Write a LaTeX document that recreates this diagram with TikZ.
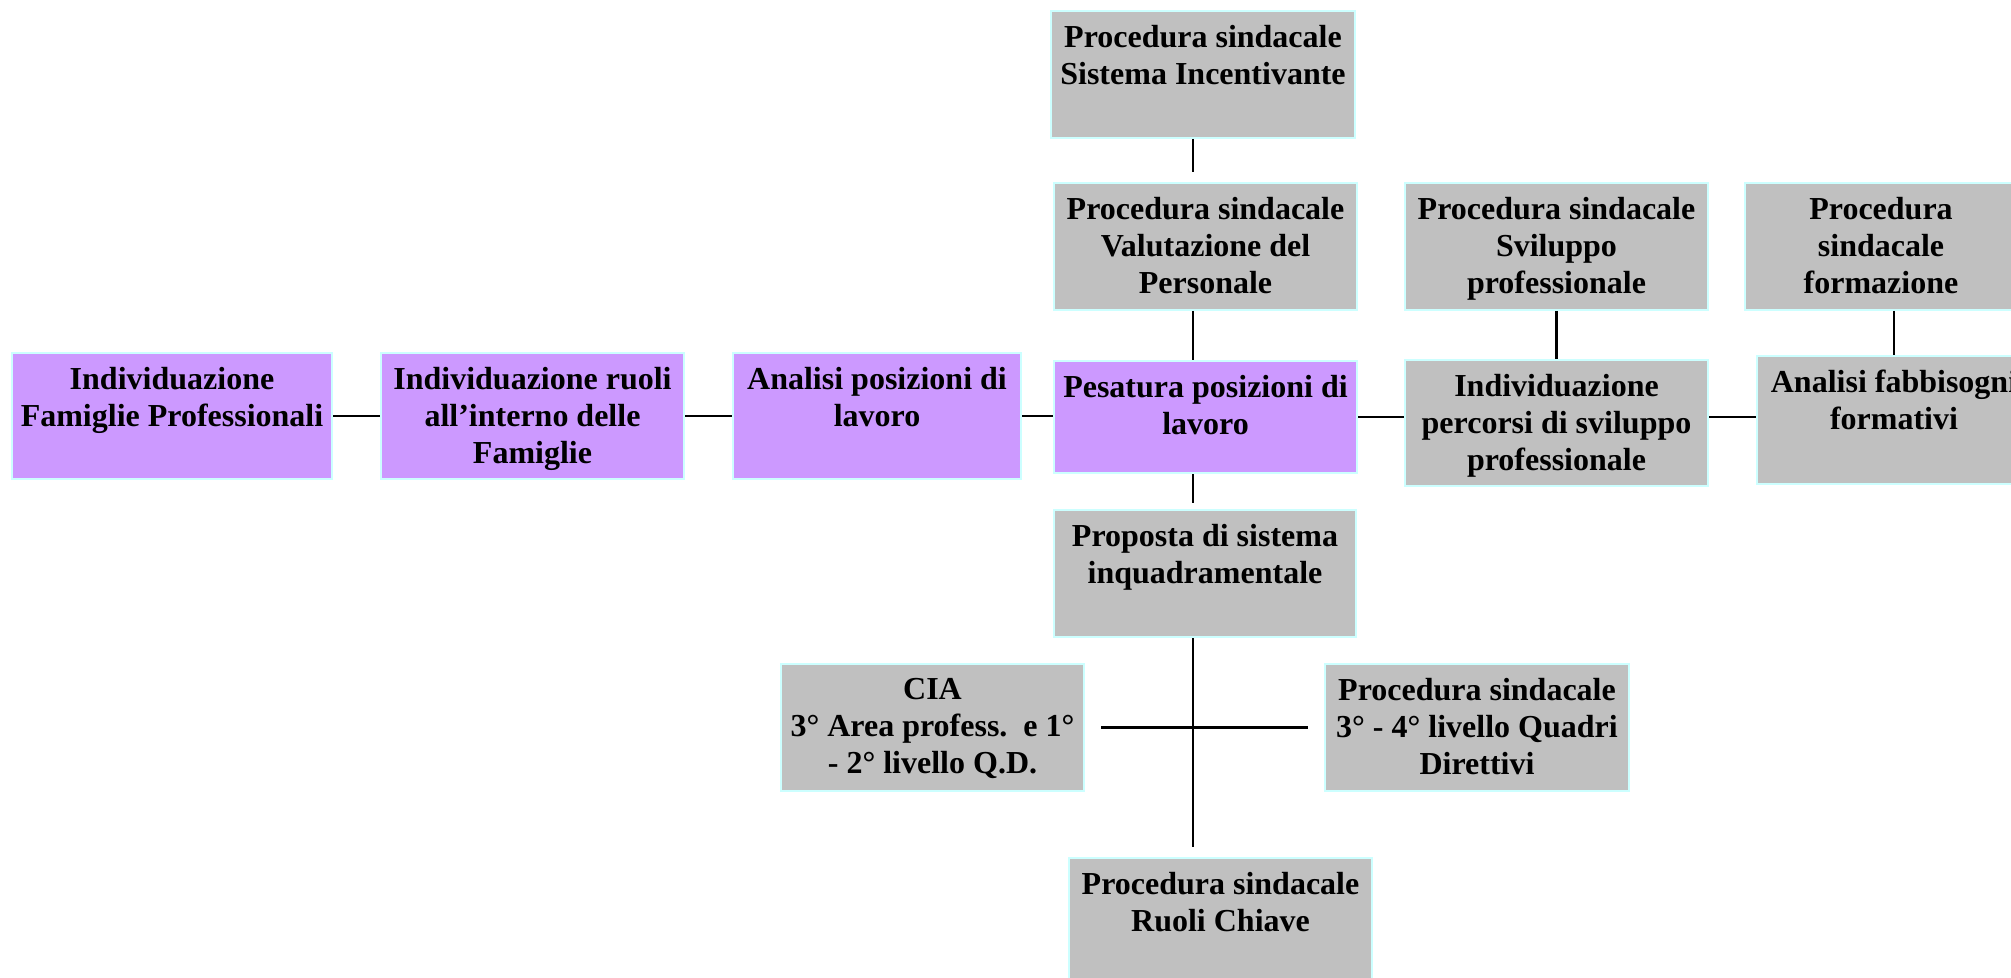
\documentclass[tikz,border=0pt]{standalone}
\usepackage{fontspec}
\setmainfont{Liberation Serif}
\definecolor{lilac}{RGB}{204,153,255}
\definecolor{silver}{RGB}{192,192,192}
\definecolor{paleaqua}{RGB}{204,255,255}
% box text: width, height, lines (top aligned)
\newcommand{\stagetext}[3]{\parbox[t][#2][t]{#1}{\centering\vspace*{7pt}#3}}

\begin{document}
\begin{tikzpicture}[x=0.5pt, y=-0.5pt,
    stage/.style={draw=paleaqua, line width=1pt, inner sep=0pt, anchor=north west,
      font=\bfseries\fontsize{16}{18.5}\selectfont},
    mainstage/.style={stage, fill=lilac},
    sidestage/.style={stage, fill=silver},
    link/.style={line width=1.2pt}]
    \useasboundingbox (0,0) rectangle (2011,978);

    % Main chain
    \node[mainstage] (famiglie) at (11,352) {\stagetext{160pt}{63pt}{Individuazione\\Famiglie Professionali}};
    \node[mainstage] (ruoli) at (380,352) {\stagetext{151.5pt}{63pt}{Individuazione ruoli\\all’interno delle\\Famiglie}};
    \node[mainstage] (analisi) at (732,352) {\stagetext{144pt}{63pt}{Analisi posizioni di\\lavoro}};
    \node[mainstage] (pesatura) at (1053,360) {\stagetext{151.5pt}{56pt}{Pesatura posizioni di\\lavoro}};
    \node[sidestage] (percorsi) at (1404,359) {\stagetext{151.5pt}{63pt}{Individuazione\\percorsi di sviluppo\\professionale}};
    \node[sidestage] (fabbisogni) at (1756,355) {\stagetext{137pt}{64pt}{Analisi fabbisogni\\formativi}};

    % Procedures above
    \node[sidestage] (incentivi) at (1050,10) {\stagetext{152pt}{63.5pt}{Procedura sindacale\\Sistema Incentivante}};
    \node[sidestage] (valutazione) at (1053,182) {\stagetext{151.5pt}{63.5pt}{Procedura sindacale\\Valutazione del\\Personale}};
    \node[sidestage] (sviluppo) at (1404,182) {\stagetext{151.5pt}{63.5pt}{Procedura sindacale\\Sviluppo\\professionale}};
    \node[sidestage] (formazione) at (1744,182) {\stagetext{136pt}{63.5pt}{Procedura\\sindacale\\formazione}};

    % Below
    \node[sidestage] (inquadr) at (1053,509) {\stagetext{151pt}{63.5pt}{Proposta di sistema\\inquadramentale}};
    \node[sidestage] (cia) at (780,663) {\stagetext{151.5pt}{63.5pt}{CIA\\3° Area profess.\ \ e 1°\\- 2° livello Q.D.}};
    \node[sidestage] (quadri) at (1324,663) {\stagetext{152pt}{63.5pt}{Procedura sindacale\\3° - 4° livello Quadri\\Direttivi}};
    \node[sidestage] (chiave) at (1068,857) {\stagetext{151.5pt}{63.5pt}{Procedura sindacale\\Ruoli Chiave}};

    \coordinate (spine) at (1193,0);

    % Horizontal links
    \draw[link] (famiglie.east) -- (ruoli.west);
    \draw[link] (ruoli.east) -- (analisi.west);
    \draw[link] (analisi.east) -- (analisi.east -| pesatura.west);
    \draw[link] (pesatura.east) -- (pesatura.east -| percorsi.west);
    \draw[link] (pesatura.east -| percorsi.east) -- (pesatura.east -| fabbisogni.west);
    \draw[link, shorten <=8pt, shorten >=8pt] (cia.east) -- (quadri.west);

    % Vertical links
    \draw[link, shorten >=5pt] (spine |- incentivi.south) -- (spine |- valutazione.north);
    \draw[link] (spine |- valutazione.south) -- (spine |- pesatura.north);
    \draw[link, shorten >=3pt] (spine |- pesatura.south) -- (spine |- inquadr.north);
    \draw[link, shorten >=5pt] (spine |- inquadr.south) -- (spine |- chiave.north);
    \draw[link] (sviluppo.south) -- (sviluppo.south |- percorsi.north);
    \draw[link] (fabbisogni.north |- formazione.south) -- (fabbisogni.north);
\end{tikzpicture}
\end{document}
